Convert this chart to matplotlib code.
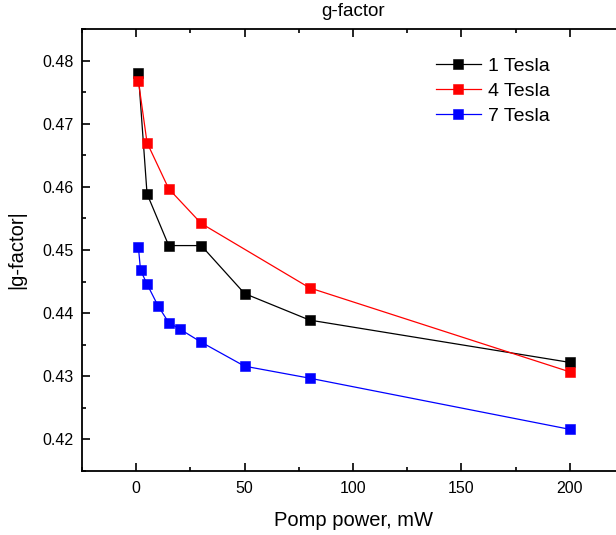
import matplotlib
matplotlib.use("Agg")
import matplotlib.pyplot as plt
from matplotlib.ticker import MultipleLocator, FormatStrFormatter

plt.rcParams['font.family'] = ['Liberation Sans', 'DejaVu Sans']

# Pump power (mW) and |g-factor| for each magnetic field
power_1T = [1, 5, 15, 30, 50, 80, 200]
g_1T = [0.4780, 0.4589, 0.4507, 0.4507, 0.4431, 0.4389, 0.4322]

power_4T = [1, 5, 15, 30, 80, 200]
g_4T = [0.4768, 0.4670, 0.4597, 0.4542, 0.4440, 0.4307]

power_7T = [1, 2, 5, 10, 15, 20, 30, 50, 80, 200]
g_7T = [0.4505, 0.4468, 0.4446, 0.4412, 0.4385, 0.4375, 0.4354, 0.4316, 0.4297, 0.4216]

labels = ['1 Tesla', '4 Tesla', '7 Tesla']
colors = ['black', 'red', 'blue']

fig = plt.figure(figsize=(6.16, 5.35), dpi=100)
ax = fig.add_axes([82 / 616, 64 / 535, (624 - 82) / 616, (471 - 29) / 535])

for xs, ys, lab, col in zip([power_1T, power_4T, power_7T], [g_1T, g_4T, g_7T], labels, colors):
    ax.plot(xs, ys, color=col, lw=0.9, marker='s', ms=7.5, mfc=col, mec=col,
            mew=0.4, label=lab)

ax.set_xlim(-25, 225)
ax.set_ylim(0.415, 0.485)
ax.xaxis.set_major_locator(MultipleLocator(50))
ax.xaxis.set_minor_locator(MultipleLocator(25))
ax.yaxis.set_major_locator(MultipleLocator(0.01))
ax.yaxis.set_minor_locator(MultipleLocator(0.005))
ax.yaxis.set_major_formatter(FormatStrFormatter('%.2f'))

ax.tick_params(which='both', direction='in', top=True, right=True, width=1.2,
               labelsize=11.5)
ax.tick_params(which='major', length=6)
ax.tick_params(which='minor', length=3)
ax.tick_params(axis='x', which='major', pad=7)
ax.tick_params(axis='y', which='major', pad=5.8)
for s in ax.spines.values():
    s.set_linewidth(1.3)

ax.set_xlabel('Pomp power, mW', fontsize=14.5, labelpad=11)
ax.set_ylabel('|g-factor|', fontsize=14.5, labelpad=11.5)
ax.set_title('g-factor', fontsize=13.5, pad=9.5)

ax.legend(loc='upper left', bbox_to_anchor=(436 / 616, 1 - 57 / 535),
          bbox_transform=fig.transFigure, frameon=False, fontsize=14,
          handlelength=2.3, handletextpad=0.35, labelspacing=0.39,
          borderpad=0, borderaxespad=0)

fig.savefig('out.png', dpi=100)
